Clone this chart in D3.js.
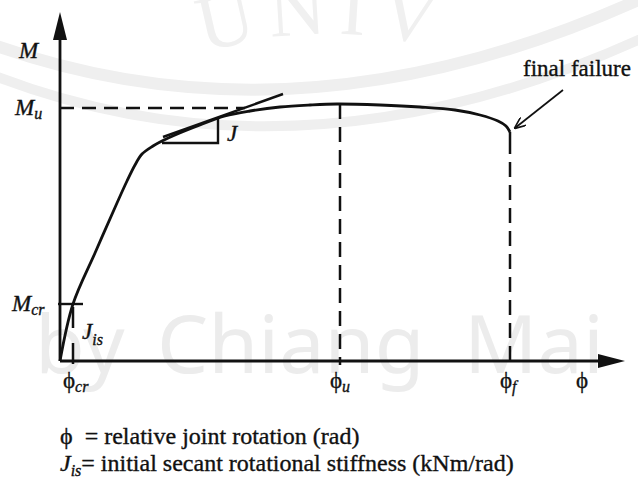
<!DOCTYPE html>
<html>
<head>
<meta charset="utf-8">
<script src="https://d3js.org/d3.v7.min.js"></script>
<style>
  body { margin: 0; background: #fff; }
  text { font-family: "Liberation Serif", "DejaVu Serif", serif; fill: #111; white-space: pre; }
  .label { stroke: #111; stroke-width: 0.35; }
</style>
</head>
<body>
<svg id="drawing_region"></svg>
<script>
// curve: rotation (phi) and moment (M), arbitrary units
const phiValues = [0, 1.3, 3.5, 5.7, 6.7, 7.5, 8.2, 9.3, 10.2, 11.5, 14.0, 16.5, 19.0, 22.0, 25.0, 27.7, 32.0, 36.0, 39.5, 42.0, 43.8, 44.6, 45.0];
const momentValues = [0, 5.7, 10.8, 15.8, 18.0, 19.6, 20.7, 21.5, 22.0, 22.6, 23.6, 24.5, 25.0, 25.4, 25.6, 25.7, 25.6, 25.4, 25.1, 24.6, 24.0, 23.5, 22.9];

// characteristic points
const phiMarks = [1.3, 28.0, 45.0];        // phi_cr, phi_u, phi_f
const phiMarkSubs = ['cr', 'u', 'f'];
const momentMarks = [5.7, 25.3];            // M_cr, M_u
const momentMarkSubs = ['cr', 'u'];

// tangent stiffness J and its triangle
const tangentPhi = [10.3, 22.3];
const tangentM = [22.4, 26.7];
const trianglePhi = [10.2, 15.8, 15.8];
const triangleM = [21.8, 21.8, 24.3];

const axisMax = { phi: 56.5, M: 34.9 };

const legendLines = [
    { sym: '\u03D5', sub: '', text: '  = relative joint rotation (rad)' },
    { sym: 'J', sub: 'is', text: '= initial secant rotational stiffness (kNm/rad)' }
];

// faint watermark words of the scanned page
const watermarkWords = ['by', 'Chiang', 'Mai'];
const watermarkX = [35, 157, 464];

class MomentRotationChart {
    constructor(config) {
        this.config = config;
        this.init();
    }

    init() {
        let self = this;
        self.svg = d3.select(self.config.parent)
            .attr('width', self.config.width)
            .attr('height', self.config.height);

        self.xscale = d3.scaleLinear()
            .domain([0, axisMax.phi])
            .range([60, 625]);
        self.yscale = d3.scaleLinear()
            .domain([0, axisMax.M])
            .range([361, 12]);

        const defs = self.svg.append('defs');
        defs.append('marker')
            .attr('id', 'open-head')
            .attr('viewBox', '0 0 12 10')
            .attr('refX', 11).attr('refY', 5)
            .attr('markerWidth', 12).attr('markerHeight', 10)
            .attr('markerUnits', 'userSpaceOnUse')
            .attr('orient', 'auto')
            .append('path')
            .attr('d', 'M0,0 L12,5 L0,10')
            .attr('fill', 'none')
            .attr('stroke', '#111')
            .attr('stroke-width', 1.6);
    }

    watermark() {
        let self = this;
        const g = self.svg.append('g').attr('fill', 'none').attr('stroke', '#efefef');
        g.append('path').attr('d', 'M-20,40 Q300,160 660,-10').attr('stroke-width', 12);
        g.append('path').attr('d', 'M-20,70 Q300,200 660,30').attr('stroke-width', 10);

        self.svg.append('path')
            .attr('id', 'wm-arc')
            .attr('d', 'M40,150 A420,420 0 0,1 620,150')
            .attr('fill', 'none');
        self.svg.append('text')
            .attr('font-size', 78)
            .style('fill', '#f0f0f0')
            .append('textPath')
            .attr('href', '#wm-arc')
            .attr('startOffset', '30%')
            .attr('letter-spacing', 12)
            .text('UNIV');

        self.svg.selectAll('.wm-word')
            .data(watermarkWords)
            .join('text')
            .attr('class', 'wm-word')
            .attr('x', (d, i) => watermarkX[i])
            .attr('y', 373)
            .attr('font-size', 81)
            .style('font-family', '"Noto Sans", sans-serif')
            .style('fill', '#ececec')
            .text(d => d);
    }

    render() {
        let self = this;
        const x = self.xscale, y = self.yscale;
        const ink = '#111';

        // axes with filled arrows
        self.svg.append('line')
            .attr('x1', x(0)).attr('y1', y(0))
            .attr('x2', x(0)).attr('y2', y(axisMax.M) + 20)
            .attr('stroke', ink).attr('stroke-width', 2.8);
        self.svg.append('line')
            .attr('x1', x(0)).attr('y1', y(0))
            .attr('x2', x(axisMax.phi) - 20).attr('y2', y(0))
            .attr('stroke', ink).attr('stroke-width', 2.8);
        self.svg.append('path')
            .attr('d', `M${x(0)},${y(axisMax.M)} L${x(0) - 7},${y(axisMax.M) + 28} L${x(0) + 7},${y(axisMax.M) + 28} Z`)
            .attr('fill', ink);
        self.svg.append('path')
            .attr('d', `M${x(axisMax.phi)},${y(0)} L${x(axisMax.phi) - 27},${y(0) - 7} L${x(axisMax.phi) - 27},${y(0) + 7} Z`)
            .attr('fill', ink);

        // dashed reference lines
        self.svg.append('line')
            .attr('x1', x(0)).attr('y1', y(momentMarks[1]))
            .attr('x2', x(18.5)).attr('y2', y(momentMarks[1]))
            .attr('stroke', ink).attr('stroke-width', 2.5)
            .attr('stroke-dasharray', '14,8');

        const curveEndM = momentValues[momentValues.length - 1];
        const topM = [momentMarks[0] - 0.3, 25.7, curveEndM];
        self.svg.selectAll('.phi-mark')
            .data(phiMarks)
            .join('line')
            .attr('class', 'phi-mark')
            .attr('x1', d => x(d)).attr('x2', d => x(d))
            .attr('y1', (d, i) => y(topM[i]))
            .attr('y2', (d, i) => i === 0 ? y(0) + 7 : y(0) + 4)
            .attr('stroke', ink).attr('stroke-width', 2.5)
            .attr('stroke-dasharray', (d, i) => i === 0 ? '21,15' : (i === 2 ? '22,8,15,8,15,8,15,8,15,8,15,8,15,8,15,8,15,8,15,8' : '15,8'));

        // M_cr short horizontal tick
        self.svg.append('line')
            .attr('x1', x(-0.2)).attr('x2', x(2.3))
            .attr('y1', y(momentMarks[0])).attr('y2', y(momentMarks[0]))
            .attr('stroke', ink).attr('stroke-width', 2.4);

        // tangent J and triangle
        self.svg.append('line')
            .attr('x1', x(tangentPhi[0])).attr('y1', y(tangentM[0]))
            .attr('x2', x(tangentPhi[1])).attr('y2', y(tangentM[1]))
            .attr('stroke', ink).attr('stroke-width', 2.4);
        const tri = d3.line().x(d => x(d[0])).y(d => y(d[1]));
        self.svg.append('path')
            .attr('d', tri(d3.zip(trianglePhi, triangleM)))
            .attr('fill', 'none').attr('stroke', ink).attr('stroke-width', 2.4);

        // main moment-rotation curve
        const line = d3.line()
            .x(d => x(d[0]))
            .y(d => y(d[1]))
            .curve(d3.curveCatmullRom.alpha(0.5));
        self.svg.append('path')
            .attr('d', line(d3.zip(phiValues, momentValues)))
            .attr('fill', 'none')
            .attr('stroke', ink)
            .attr('stroke-width', 2.8)
            .attr('stroke-linejoin', 'round');

        // final failure callout
        self.svg.append('line')
            .attr('x1', x(50.3)).attr('y1', y(27.1))
            .attr('x2', x(45.5)).attr('y2', y(23.3))
            .attr('stroke', ink).attr('stroke-width', 1.7)
            .attr('marker-end', 'url(#open-head)');
        self.svg.append('text')
            .attr('class', 'label')
            .attr('x', 523).attr('y', 76)
            .attr('font-size', 23)
            .text('final failure');

        // axis labels
        self.svg.append('text')
            .attr('class', 'label')
            .attr('x', 19).attr('y', 58)
            .attr('font-size', 23).attr('font-style', 'italic')
            .text('M');

        const mLabelX = [12, 15];
        self.svg.selectAll('.m-label')
            .data(momentMarks)
            .join('text')
            .attr('class', 'm-label label')
            .attr('x', (d, i) => mLabelX[i])
            .attr('y', d => y(d) + 7)
            .attr('font-size', 23).attr('font-style', 'italic')
            .text('M')
            .append('tspan')
            .attr('dy', 4).attr('font-size', 16)
            .text((d, i) => momentMarkSubs[i]);

        self.svg.selectAll('.phi-label')
            .data(phiMarks)
            .join('text')
            .attr('class', 'phi-label label')
            .attr('x', d => x(d) - 10)
            .attr('y', 388)
            .attr('font-size', 23)
            .text('\u03D5')
            .append('tspan')
            .attr('dy', 4).attr('font-size', 16).attr('font-style', 'italic')
            .text((d, i) => phiMarkSubs[i]);

        self.svg.append('text')
            .attr('class', 'label')
            .attr('x', 576).attr('y', 388)
            .attr('font-size', 23)
            .text('\u03D5');

        // stiffness labels
        self.svg.append('text')
            .attr('class', 'label')
            .attr('x', 227).attr('y', 141)
            .attr('font-size', 23).attr('font-style', 'italic')
            .text('J');
        const jis = self.svg.append('text')
            .attr('class', 'label')
            .attr('x', 82).attr('y', 339)
            .attr('font-size', 23).attr('font-style', 'italic')
            .text('J');
        jis.append('tspan').attr('dy', 6).attr('font-size', 16).text('is');

        // legend below the chart
        const lg = self.svg.selectAll('.legend')
            .data(legendLines)
            .join('text')
            .attr('class', 'legend label')
            .attr('x', 60)
            .attr('y', (d, i) => 444 + i * 27)
            .attr('font-size', 24);
        lg.append('tspan')
            .attr('font-style', (d, i) => i === 1 ? 'italic' : 'normal')
            .text(d => d.sym);
        lg.append('tspan')
            .attr('dy', 5).attr('font-size', 16).attr('font-style', 'italic')
            .text(d => d.sub);
        lg.append('tspan')
            .attr('dy', (d, i) => i === 1 ? -5 : 0)
            .text(d => d.text);
    }
}

const chart = new MomentRotationChart({
    parent: '#drawing_region',
    width: 638,
    height: 478
});
chart.watermark();
chart.render();
</script>
</body>
</html>
